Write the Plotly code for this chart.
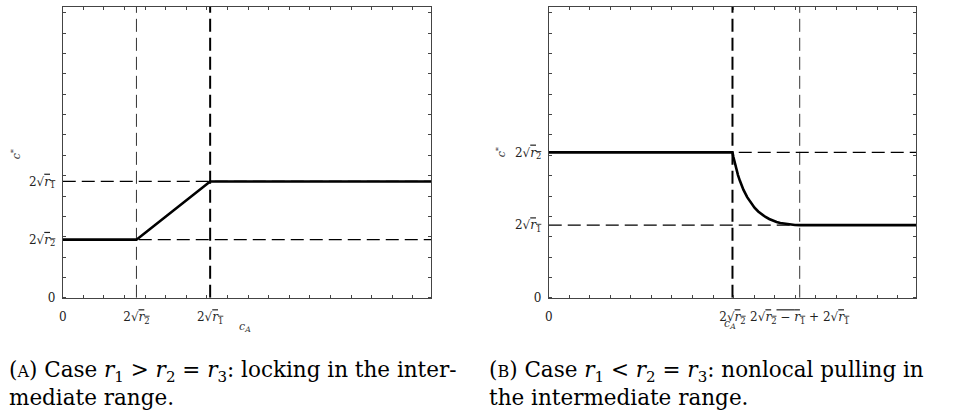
import plotly.graph_objects as go

# ---------------- data ----------------
# Panel A: r1 > r2 = r3 (2*sqrt(r2)=0.2, 2*sqrt(r1)=0.4)
a_cA = [0.0, 0.2, 0.4, 1.0]
a_cstar = [0.2, 0.2, 0.4, 0.4]
a_vlines = [0.2, 0.4]
a_hlines = [0.2, 0.4]
a_xtickvals = [0.0, 0.2, 0.4]
a_ytickvals = [0.0, 0.2, 0.4]

# Panel B: r1 < r2 = r3 (2*sqrt(r2)=0.5, 2*sqrt(r1)=0.25)
b_cA = [0.0, 0.5, 0.5025, 0.505, 0.51, 0.515, 0.52, 0.525, 0.53, 0.54, 0.55, 0.56, 0.57,
        0.58, 0.59, 0.60, 0.61, 0.62, 0.63, 0.64, 0.65, 0.66, 0.67, 0.683, 1.0]
b_cstar = [0.5, 0.5, 0.484, 0.470, 0.444, 0.422, 0.403, 0.386, 0.371, 0.346, 0.326, 0.310, 0.297,
           0.286, 0.278, 0.271, 0.265, 0.261, 0.257, 0.255, 0.2525, 0.251, 0.2504, 0.25, 0.25]
b_vlines = [0.5, 0.683]
b_hlines = [0.5, 0.25]
b_xtickvals = [0.0, 0.5, 0.683]
b_ytickvals = [0.0, 0.25, 0.5]


def sq(inner):
    return "2√<span style='text-decoration:overline'>" + inner + "</span>"


R1 = "<i>r</i><sub>1</sub>"
R2 = "<i>r</i><sub>2</sub>"
a_xticktext = ["0", sq(R2), sq(R1)]
a_yticktext = ["0", sq(R2), sq(R1)]
b_xticktext = ["0", sq(R2), sq(R2 + " − " + R1) + " + " + sq(R1)]
b_yticktext = ["0", sq(R1), sq(R2)]

SERIF = "DejaVu Serif"
fig = go.Figure()

panels = [
    ("x", "y", a_cA, a_cstar, a_vlines, a_hlines, [1.0, 2.0], [1.3, 1.3]),
    ("x2", "y2", b_cA, b_cstar, b_vlines, b_hlines, [2.0, 1.0], [1.3, 1.3]),
]
for xa, ya, cx, cy, vl, hl, vw, hw in panels:
    for v, w in zip(vl, vw):
        fig.add_trace(go.Scatter(x=[v, v], y=[0, 1], mode="lines", xaxis=xa, yaxis=ya,
                                 line=dict(color="black" if w > 1.5 else "#333", width=w, dash="13px,6px"),
                                 showlegend=False, hoverinfo="skip"))
    for h, w in zip(hl, hw):
        fig.add_trace(go.Scatter(x=[0, 1], y=[h, h], mode="lines", xaxis=xa, yaxis=ya,
                                 line=dict(color="black", width=w, dash="13px,6px"),
                                 showlegend=False, hoverinfo="skip"))
    fig.add_trace(go.Scatter(x=cx, y=cy, mode="lines", xaxis=xa, yaxis=ya,
                             line=dict(color="black", width=2.6),
                             showlegend=False, hoverinfo="skip"))

W, H = 967, 411


def px(x):
    return x / W


def py(y):
    return 1 - y / H


def xaxis(domain, tv, tt):
    return dict(domain=domain, range=[0, 1], tickvals=tv, ticktext=tt, ticks="",
                showgrid=False, zeroline=False, showline=True, linecolor="#444", linewidth=1,
                mirror="allticks", tickfont=dict(family=SERIF, size=12, color="#222"),
                ticklabelstandoff=8,
                minor=dict(tick0=0, dtick=0.0559, ticks="inside", ticklen=3, tickcolor="#444", showgrid=False),
                fixedrange=True)


def yaxis(domain, anchor, tv, tt):
    return dict(domain=domain, anchor=anchor, range=[0, 1], tickvals=tv, ticktext=tt, ticks="",
                showgrid=False, zeroline=False, showline=True, linecolor="#444", linewidth=1,
                mirror="allticks", tickfont=dict(family=SERIF, size=12, color="#222"),
                ticklabelstandoff=4,
                minor=dict(tick0=0, dtick=0.07, ticks="inside", ticklen=3, tickcolor="#444", showgrid=False),
                fixedrange=True)


ydom = [py(303), py(7)]
fig.update_layout(
    width=W, height=H, margin=dict(l=0, r=0, t=0, b=0),
    paper_bgcolor="white", plot_bgcolor="white",
    xaxis=dict(anchor="y", **xaxis([px(59), px(429)], a_xtickvals, a_xticktext)),
    yaxis=yaxis(ydom, "x", a_ytickvals, a_yticktext),
    xaxis2=dict(anchor="y2", **xaxis([px(547), px(916)], b_xtickvals, b_xticktext)),
    yaxis2=yaxis(ydom, "x2", b_ytickvals, b_yticktext),
)

anns = [
    dict(x=px(12), y=py(157), text="<i>c</i><sup>*</sup>", textangle=-90, size=11),
    dict(x=px(499), y=py(155), text="<i>c</i><sup>*</sup>", textangle=-90, size=11),
    dict(x=px(242), y=py(333), text="<i>c</i><sub><i>A</i></sub>", textangle=0, size=11),
    dict(x=px(729), y=py(330), text="<i>c</i><sub><i>A</i></sub>", textangle=0, size=11),
]
for a in anns:
    fig.add_annotation(x=a["x"], y=a["y"], xref="paper", yref="paper", text=a["text"],
                       textangle=a["textangle"], showarrow=False,
                       xanchor="center", yanchor="middle",
                       font=dict(family=SERIF, size=a["size"], color="#333"))

SC = "<span style='font-size:16px'>"
captions = [
    (3, 378, "(" + SC + "A</span>) Case <i>r</i><sub>1</sub> &gt; <i>r</i><sub>2</sub> = <i>r</i><sub>3</sub>: locking in the inter-"),
    (3, 404, "mediate range."),
    (485, 378, "(" + SC + "B</span>) Case <i>r</i><sub>1</sub> &lt; <i>r</i><sub>2</sub> = <i>r</i><sub>3</sub>: nonlocal pulling in"),
    (485, 404, "the intermediate range."),
]
for x, y, t in captions:
    fig.add_annotation(x=px(x), y=py(y), xref="paper", yref="paper", text=t, showarrow=False,
                       xanchor="left", yanchor="middle",
                       font=dict(family=SERIF, size=21.5, color="black"))

fig.write_html("out.html", config={"displayModeBar": False},
               post_script="document.body.style.margin='0';document.body.style.overflow='hidden';")
